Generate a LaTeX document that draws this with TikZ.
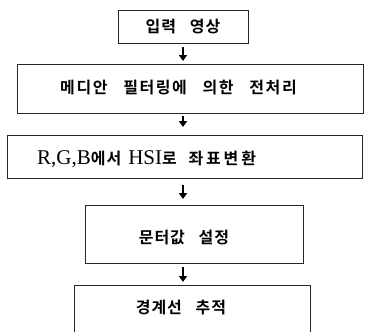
\documentclass[tikz,border=0pt]{standalone}
\usepackage{fontspec}
\setmainfont{Liberation Serif}
\newfontfamily\kr[LetterSpace=6,WordSpace=3,BoldFont={Noto Sans CJK KR Bold}]{Noto Sans CJK KR}
\newfontfamily\krm[LetterSpace=10,WordSpace=3,BoldFont={Noto Sans CJK KR Bold}]{Noto Sans CJK KR}
\newfontfamily\krw[LetterSpace=18,WordSpace=1.8,BoldFont={Noto Sans CJK KR Bold}]{Noto Sans CJK KR}
\usetikzlibrary{arrows.meta}
\begin{document}
\begin{tikzpicture}[x=1pt,y=-1pt,
  box/.style={draw=black!85,line width=0.9pt,inner sep=0pt,anchor=north west},
  lbl/.style={inner sep=0pt,font=\kr\bfseries\fontsize{16}{18}\selectfont},
  flow/.style={line width=2.6pt,-{Triangle[width=8pt,length=6pt]}}]
\useasboundingbox (0,0) rectangle (365,332);
\fill[white] (0,0) rectangle (365,332);
% boxes
\node[box,minimum width=130pt,minimum height=33pt] (b1) at (118,10) {};
\node[box,minimum width=346pt,minimum height=49pt] (b2) at (17,64) {};
\node[box,minimum width=355pt,minimum height=43pt] (b3) at (7,135) {};
\node[box,minimum width=218pt,minimum height=58pt] (b4) at (85,205) {};
\node[inner sep=0pt,minimum width=236pt,minimum height=60pt,anchor=north west] (b5) at (74,285) {};
\draw[black!85,line width=0.9pt] (b5.south west) -- (b5.north west) -- (b5.north east) -- (b5.south east);
% labels
\node[lbl] (t1) at (183,27) {입력 영상};
\node[lbl,font=\krm\bfseries\fontsize{16}{18}\selectfont,anchor=west] (t2) at (60,88) {메디안 필터링에 의한 전처리};
\node[lbl,font=\fontsize{21}{23}\selectfont,anchor=west] (t3) at (37,159) {R,G,B{\kr\bfseries\fontsize{16}{18}\selectfont 에서}\hspace{7pt}HSI{\krw\bfseries\fontsize{16}{18}\selectfont 로 좌표변환}};
\node[lbl] (t4) at (184,238) {문터값 설정};
\node[lbl] (t5) at (181,308) {경계선 추적};
% arrows
\coordinate (a1s) at (183,47);
\draw[flow,shorten <=3pt,shorten >=3pt] (b1.south -| a1s) -- (b2.north -| a1s);
\draw[flow,shorten <=2pt,shorten >=8pt] (b2.south -| a1s) -- (b3.north -| a1s);
\draw[flow,shorten <=6pt,shorten >=6pt] (b3.south -| a1s) -- (b4.north -| a1s);
\draw[flow,shorten <=3pt,shorten >=3pt] (b4.south -| a1s) -- (b5.north -| a1s);
\end{tikzpicture}
\end{document}
